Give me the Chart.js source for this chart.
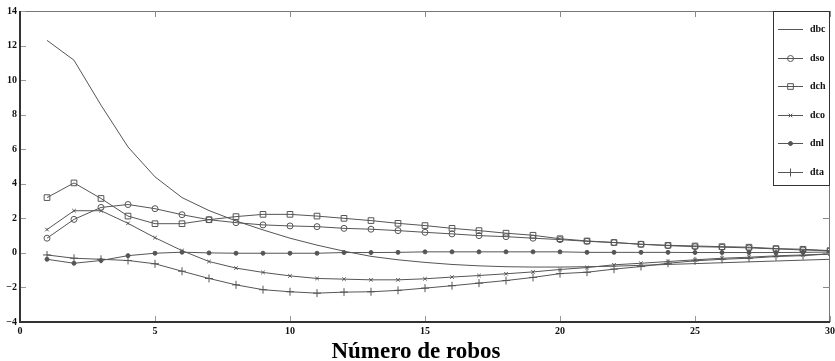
<!DOCTYPE html>
<html>
<head>
<meta charset="utf-8">
<script src="https://cdn.jsdelivr.net/npm/chart.js@4.4.0/dist/chart.umd.min.js"></script>
<style>
  html, body { margin: 0; padding: 0; background: #fff; }
  #wrap { width: 835px; height: 361px; }
</style>
</head>
<body>
<div id="wrap"><canvas id="c" width="835" height="361"></canvas></div>
<script>
// Number of robots (x) and the six deviation series
const robots = [1,2,3,4,5,6,7,8,9,10,11,12,13,14,15,16,17,18,19,20,21,22,23,24,25,26,27,28,29,30];
const dbc = [12.3,11.15,8.55,6.13,4.4,3.2,2.45,1.85,1.33,0.85,0.45,0.1,-0.2,-0.4,-0.55,-0.67,-0.75,-0.8,-0.82,-0.82,-0.8,-0.77,-0.72,-0.67,-0.62,-0.57,-0.52,-0.47,-0.42,-0.37];
const dso = [0.85,1.94,2.63,2.8,2.56,2.21,1.92,1.75,1.62,1.56,1.52,1.42,1.37,1.29,1.19,1.1,1.0,0.94,0.85,0.77,0.67,0.6,0.5,0.42,0.36,0.33,0.29,0.23,0.17,0.12];
const dch = [3.2,4.05,3.15,2.13,1.69,1.69,1.92,2.1,2.23,2.23,2.13,2.0,1.87,1.71,1.58,1.42,1.29,1.14,1.02,0.82,0.69,0.6,0.5,0.44,0.4,0.36,0.33,0.25,0.21,0.13];
const dco = [1.35,2.44,2.44,1.71,0.88,0.13,-0.5,-0.88,-1.13,-1.33,-1.48,-1.52,-1.56,-1.56,-1.5,-1.4,-1.31,-1.21,-1.1,-0.96,-0.85,-0.69,-0.6,-0.5,-0.4,-0.31,-0.25,-0.17,-0.12,-0.06];
const dnl = [-0.37,-0.6,-0.44,-0.16,-0.02,0.04,0.0,-0.02,-0.02,-0.02,-0.02,0.02,0.02,0.03,0.06,0.06,0.06,0.06,0.06,0.06,0.03,0.03,0.03,0.03,0.02,0.02,0.02,0.02,0.03,0.05];
const dta = [-0.12,-0.31,-0.37,-0.44,-0.63,-1.06,-1.48,-1.85,-2.13,-2.25,-2.33,-2.27,-2.25,-2.17,-2.04,-1.9,-1.75,-1.6,-1.42,-1.2,-1.12,-0.94,-0.79,-0.6,-0.46,-0.37,-0.31,-0.21,-0.16,-0.06];

const xTicks = [0,5,10,15,20,25,30];
const yTicks = [-4,-2,0,2,4,6,8,10,12,14];
const xTitle = 'Número de robos';

const LINE = '#555';
const SERIF = "'Liberation Serif', 'Times New Roman', serif";

function pts(values) {
  return values.map((v, i) => ({ x: robots[i], y: v }));
}

function series(label, values, style, radius, fill) {
  return {
    label,
    data: pts(values),
    borderColor: LINE,
    borderWidth: 1,
    pointStyle: style || 'circle',
    pointRadius: radius,
    pointHoverRadius: radius,
    pointBorderColor: LINE,
    pointBorderWidth: 1,
    pointBackgroundColor: fill ? LINE : 'rgba(255,255,255,0)',
    tension: 0,
    fill: false
  };
}

// Frame, inward tick marks, legend and axis title
const decorations = {
  id: 'decorations',
  afterDraw(chart) {
    const { ctx, chartArea: a, scales: { x, y } } = chart;
    ctx.save();
    // top and right borders
    ctx.strokeStyle = '#777';
    ctx.lineWidth = 1;
    ctx.beginPath();
    ctx.moveTo(a.left, a.top + 0.5); ctx.lineTo(a.right, a.top + 0.5);
    ctx.moveTo(a.right - 0.5, a.top); ctx.lineTo(a.right - 0.5, a.bottom);
    ctx.stroke();
    // tick marks on top and right
    ctx.strokeStyle = '#888';
    ctx.beginPath();
    xTicks.forEach(v => {
      const px = Math.round(x.getPixelForValue(v)) + 0.5;
      ctx.moveTo(px, a.top); ctx.lineTo(px, a.top + 6);
    });
    yTicks.forEach(v => {
      const py = Math.round(y.getPixelForValue(v)) + 0.5;
      ctx.moveTo(a.right, py); ctx.lineTo(a.right - 7, py);
    });
    ctx.stroke();
    // tick marks on left and bottom
    ctx.strokeStyle = '#999';
    ctx.beginPath();
    yTicks.forEach(v => {
      const py = Math.round(y.getPixelForValue(v)) + 0.5;
      ctx.moveTo(a.left, py); ctx.lineTo(a.left + 6, py);
    });
    xTicks.forEach(v => {
      const px = Math.round(x.getPixelForValue(v)) + 0.5;
      ctx.moveTo(px, a.bottom); ctx.lineTo(px, a.bottom - 6);
    });
    ctx.stroke();
    // left and bottom axes
    ctx.strokeStyle = '#333';
    ctx.lineWidth = 2;
    ctx.beginPath();
    ctx.moveTo(a.left, a.top); ctx.lineTo(a.left, a.bottom);
    ctx.lineTo(a.right, a.bottom);
    ctx.stroke();

    // legend box
    const bx = 773.5, by = a.top + 0.5, bw = a.right - 0.5 - bx, bh = 174;
    ctx.fillStyle = '#fff';
    ctx.fillRect(bx, by, bw, bh);
    ctx.strokeStyle = '#333';
    ctx.lineWidth = 1;
    ctx.strokeRect(bx, by, bw, bh);
    ctx.font = 'bold 10px ' + SERIF;
    ctx.textBaseline = 'middle';
    ctx.textAlign = 'left';
    chart.data.datasets.forEach((ds, i) => {
      const ly = Math.round(29 + i * 28.6) + 0.5;
      ctx.strokeStyle = LINE;
      ctx.lineWidth = 1;
      ctx.beginPath();
      ctx.moveTo(778, ly); ctx.lineTo(803, ly);
      ctx.stroke();
      if (ds.pointRadius > 0) {
        ctx.fillStyle = ds.pointBackgroundColor;
        ctx.strokeStyle = LINE;
        Chart.helpers.drawPoint(ctx, {
          pointStyle: ds.pointStyle, radius: ds.pointRadius, rotation: 0, borderWidth: 1
        }, 790.5, ly);
      }
      ctx.fillStyle = '#111';
      ctx.fillText(ds.label, 810, ly);
    });

    // x axis title
    ctx.fillStyle = '#000';
    ctx.font = 'bold 23px ' + SERIF;
    ctx.textAlign = 'center';
    ctx.textBaseline = 'alphabetic';
    ctx.fillText(xTitle, 416, 358);
    ctx.restore();
  }
};

new Chart(document.getElementById('c'), {
  type: 'line',
  data: {
    datasets: [
      series('dbc', dbc, 'circle', 0, false),
      series('dso', dso, 'circle', 3, false),
      series('dch', dch, 'rect', 4, false),
      series('dco', dco, 'crossRot', 2.5, false),
      series('dnl', dnl, 'circle', 2, true),
      series('dta', dta, 'cross', 4, false)
    ]
  },
  options: {
    responsive: false,
    animation: false,
    devicePixelRatio: 1,
    layout: { padding: { top: 11, right: 5, left: 0, bottom: 0 } },
    plugins: { legend: { display: false }, tooltip: { enabled: false }, title: { display: false } },
    scales: {
      x: {
        type: 'linear', min: 0, max: 30,
        afterBuildTicks: s => { s.ticks = xTicks.map(v => ({ value: v })); },
        afterFit: s => { s.height = 39; s.paddingLeft = 0; s.paddingRight = 0; },
        grid: { display: false, drawTicks: false },
        border: { display: false },
        ticks: { color: '#111', padding: 3, font: { family: SERIF, size: 10, weight: 'bold' }, maxRotation: 0 }
      },
      y: {
        type: 'linear', min: -4, max: 14,
        afterBuildTicks: s => { s.ticks = yTicks.map(v => ({ value: v })); },
        afterFit: s => { s.width = 20; s.paddingTop = 0; s.paddingBottom = 0; },
        grid: { display: false, drawTicks: false },
        border: { display: false },
        ticks: { color: '#111', padding: 3, font: { family: SERIF, size: 10, weight: 'bold' },
                 callback: v => String(v).replace('-', '\u2212') }
      }
    }
  },
  plugins: [decorations]
});
</script>
</body>
</html>
